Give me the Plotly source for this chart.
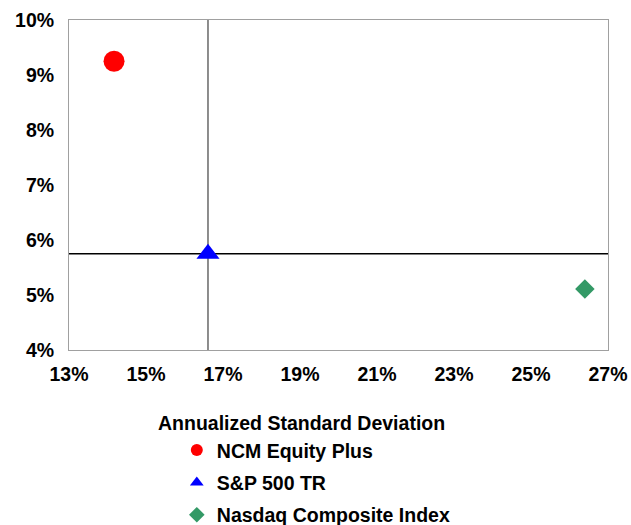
import plotly.graph_objects as go

# 年化标准差 (%) 与年化收益 (%)
names = ["NCM Equity Plus", "S&P 500 TR", "Nasdaq Composite Index"]
std_dev = [14.17, 16.61, 26.40]
returns = [9.25, 5.75, 5.11]
symbols = ["circle", "triangle-up", "diamond"]
colors = ["#ff0000", "#0000ff", "#339966"]
sizes = [21, 20, 15]

x_ticks = [13, 15, 17, 19, 21, 23, 25, 27]
y_ticks = [4, 5, 6, 7, 8, 9, 10]
x_title = "Annualized Standard Deviation"

FONT = "Liberation Sans, Arial, sans-serif"
FS = 19.5

fig = go.Figure()

for i, name in enumerate(names):
    fig.add_trace(go.Scatter(
        x=[std_dev[i]], y=[returns[i]],
        mode="markers", name="<b>" + name + "</b>",
        legendgroup=name,
        marker=dict(symbol=symbols[i], color=colors[i], size=sizes[i], line=dict(width=0))
    ))

# 以 S&P 500 为基准的十字线
fig.add_shape(type="line", xref="x", yref="paper", x0=std_dev[1], x1=std_dev[1], y0=0, y1=1,
              line=dict(color="#505050", width=1.3), layer="below")
fig.add_shape(type="line", xref="paper", yref="y", x0=0, x1=1, y0=returns[1], y1=returns[1],
              line=dict(color="black", width=1.3), layer="below")

axis_common = dict(
    showgrid=False, zeroline=False, showline=True, mirror=True,
    linecolor="#a0a0a0", linewidth=1, ticks="", automargin=False,
    tickfont=dict(family=FONT, size=FS, color="black"),
)

fig.update_xaxes(range=[13, 27], tickvals=x_ticks,
                 ticktext=[f"<b>{v}%</b>" for v in x_ticks],
                 ticklabelstandoff=7, **axis_common)
fig.update_yaxes(range=[4, 10], tickvals=y_ticks,
                 ticktext=[f"<b>{v}%</b>" for v in y_ticks],
                 ticklabelstandoff=10, **axis_common)

# 坐标轴标题（略偏左，和图例对齐）
fig.add_annotation(text=f"<b>{x_title}</b>", xref="paper", yref="paper",
                   x=0.432, y=-0.22, xanchor="center", yanchor="middle", showarrow=False,
                   font=dict(family=FONT, size=FS, color="black"))

fig.update_layout(
    width=631, height=525,
    template="plotly_white",
    paper_bgcolor="white", plot_bgcolor="white",
    margin=dict(l=69, r=23, t=20, b=175, autoexpand=False),
    showlegend=True,
    legend=dict(
        x=0.2, xanchor="left",
        y=-0.245, yanchor="top",
        font=dict(family=FONT, size=FS, color="black"),
        tracegroupgap=4, itemsizing="constant",
        bgcolor="rgba(0,0,0,0)",
    ),
)

# 去掉页面默认边距，让图正好铺满窗口
fig.write_html("out.html",
               config={"displayModeBar": False},
               post_script="document.body.style.margin='0';document.body.style.overflow='hidden';")
